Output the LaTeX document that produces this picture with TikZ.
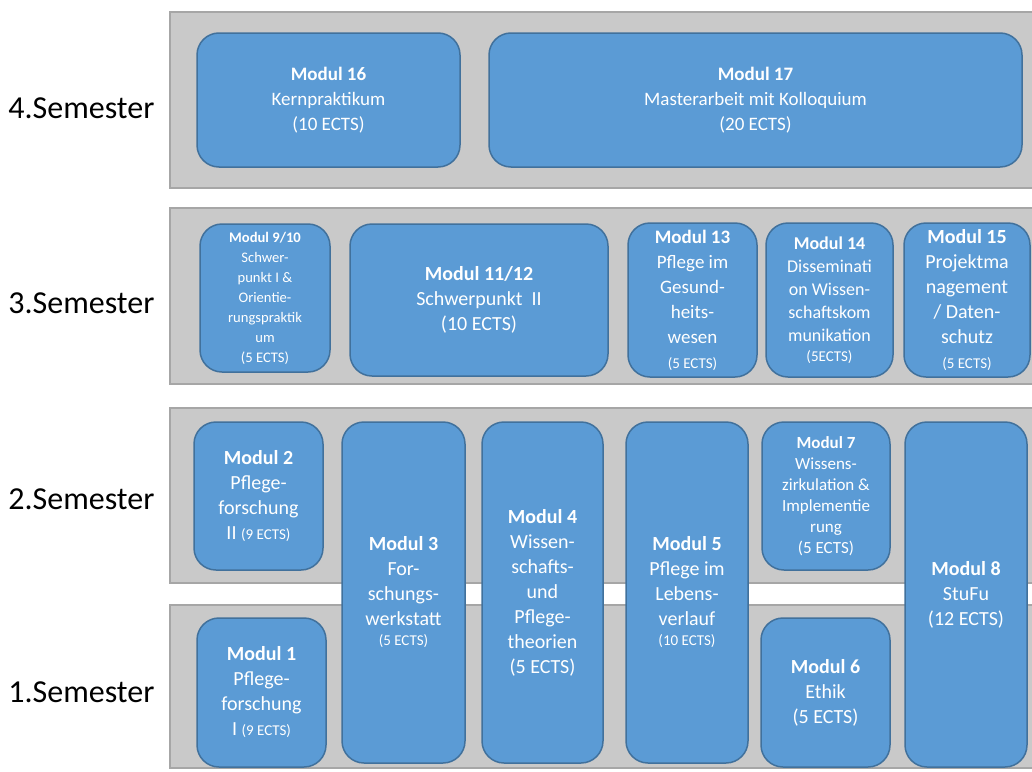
\documentclass[tikz,border=0pt]{standalone}
\usepackage{fontspec}
\setmainfont{Carlito}
\newcommand{\Unit}{0.5pt}
\newcommand{\Rim}{0.75pt}
\definecolor{band}{HTML}{C9C9C9}
\definecolor{bandline}{HTML}{A6A6A6}
\definecolor{main}{HTML}{5B9BD5}
\definecolor{dark}{HTML}{41719C}
% small print for the credit points
\newcommand{\Ects}[1]{{\fontsize{7.5}{9}\selectfont #1}}
% style, name, x1, y1, x2, y2, text
\newcommand{\Modul}[7]{%
  \node[modul,#1,minimum width={(#5-#3)*\Unit},minimum height={(#6-#4)*\Unit}]
    (#2) at ({(#3+#5)/2},{(#4+#6)/2}) {#7};}

\begin{document}
\begin{tikzpicture}[x=\Unit,y=-\Unit,
  modul/.style={fill=main,draw=dark,line width=\Rim,rounded corners=11pt,
    text=white,align=center,inner sep=0pt},
  norm/.style={font=\fontsize{10}{12.5}\selectfont},
  upper/.style={font=\fontsize{9.5}{12.5}\selectfont},
  mid/.style={font=\fontsize{9}{11.5}\selectfont},
  seven/.style={font=\fontsize{8.5}{10.5}\selectfont},
  tiny/.style={font=\fontsize{7.3}{10}\selectfont},
  sem/.style={anchor=west,inner sep=0pt,font=\fontsize{16}{19}\selectfont}]

  \useasboundingbox (0,0) rectangle (1032,771);

  % ---- the four semester bands ----------------------------------------------
  \foreach \ya/\yb in {12/188,208/384,408/583,605/768} {
    \fill[band,draw=bandline,line width=\Rim] (170,\ya) rectangle (1040,\yb);
  }
  \node[sem] (s4) at (8,108) {4.Semester};
  \node[sem] (s3) at (8,303) {3.Semester};
  \node[sem] (s2) at (8,499) {2.Semester};
  \node[sem] (s1) at (8,692) {1.Semester};

  % ---- 4. semester ----------------------------------------------------------
  \Modul{upper}{m16}{197}{33}{460}{167}{\textbf{Modul 16}\\Kernpraktikum\\(10 ECTS)}
  \Modul{upper}{m17}{489}{33}{1022}{167}{\textbf{Modul 17}\\Masterarbeit mit Kolloquium\\(20 ECTS)}

  % ---- 3. semester ----------------------------------------------------------
  \Modul{tiny}{m910}{200}{224}{330}{372}{\textbf{Modul 9/10}\\Schwer-\\punkt I \&\\Orientie-\\rungspraktik\\um\\(5 ECTS)}
  \Modul{norm}{m1112}{350}{224}{608}{376}{\textbf{Modul 11/12}\\Schwerpunkt~~II\\(10 ECTS)}
  \Modul{upper}{m13}{628}{223}{757}{377}{\textbf{Modul 13}\\Pflege im\\Gesund-\\heits-\\wesen\\\Ects{(5 ECTS)}}
  \Modul{mid}{m14}{766}{223}{893}{377}{\textbf{Modul 14}\\Disseminati\\on Wissen-\\schaftskom\\munikation\\[-1.5pt]\Ects{(5ECTS)}}
  \Modul{norm}{m15}{904}{223}{1030}{377}{\textbf{Modul 15}\\Projektma\\nagement\\/ Daten-\\schutz\\\Ects{(5 ECTS)}}

  % ---- 2. and 1. semester, some modules run over both -----------------------
  \Modul{norm}{m2}{194}{422}{323}{570}{\textbf{Modul 2}\\Pflege-\\forschung\\II \Ects{(9 ECTS)}}
  \Modul{norm}{m1}{197}{618}{326}{767}{\textbf{Modul 1}\\Pflege-\\forschung\\I \Ects{(9 ECTS)}}
  \Modul{norm}{m3}{342}{422}{465}{763}{\textbf{Modul 3}\\For-\\schungs-\\werkstatt\\[-2.5pt]\Ects{(5 ECTS)}}
  \Modul{norm}{m4}{482}{422}{603}{763}{\textbf{Modul 4}\\Wissen-\\schafts-\\und\\Pflege-\\theorien\\(5 ECTS)}
  \Modul{norm}{m5}{626}{422}{748}{763}{\textbf{Modul 5}\\Pflege im\\Lebens-\\verlauf\\[-2.5pt]\Ects{(10 ECTS)}}
  \Modul{seven}{m7}{762}{422}{890}{570}{\textbf{Modul 7}\\Wissens-\\zirkulation \&\\Implementie\\rung\\(5 ECTS)}
  \Modul{norm}{m6}{761}{618}{890}{767}{\textbf{Modul 6}\\Ethik\\(5 ECTS)}
  \Modul{norm}{m8}{905}{422}{1027}{767}{\textbf{Modul 8}\\StuFu\\(12 ECTS)}

\end{tikzpicture}
\end{document}
